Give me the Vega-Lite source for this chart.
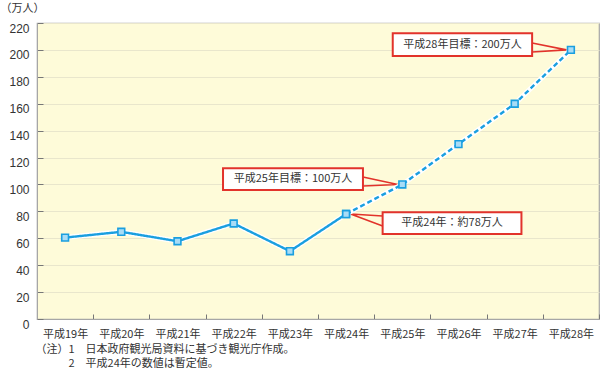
{
  "$schema": "https://vega.github.io/schema/vega-lite/v6.json",
  "width": 562,
  "height": 296,
  "autosize": {"type": "none"},
  "padding": {"left": 37, "top": 23, "right": 1, "bottom": 49},
  "background": "white",
  "config": {
    "font": "Noto Sans CJK JP",
    "view": {"fill": "#fefbd9", "stroke": "#a6a6a6", "strokeWidth": 1.2},
    "axisY": {
      "grid": true, "gridColor": "#e9e6cc", "gridWidth": 1,
      "tickSize": -6, "tickColor": "#777777", "domainColor": "#a6a6a6",
      "labelFontSize": 12, "labelColor": "#333333", "labelPadding": 14, "labelOffset": 5,
      "labelOverlap": false, "labelBound": false, "labelFlush": false,
      "labelFont": "Liberation Sans",
      "titleAngle": 0, "titleAlign": "left", "titleBaseline": "middle",
      "titleX": -37, "titleY": -15, "titleFontSize": 11, "titleFontWeight": "normal", "titleColor": "#333333"
    }
  },
  "datasets": {
    "series": [
      {"year": "平成19年", "v": 60.5, "seg": "実績"},
      {"year": "平成20年", "v": 64.8, "seg": "実績"},
      {"year": "平成21年", "v": 57.8, "seg": "実績"},
      {"year": "平成22年", "v": 71, "seg": "実績"},
      {"year": "平成23年", "v": 50.4, "seg": "実績"},
      {"year": "平成24年", "v": 78, "seg": "実績"},
      {"year": "平成24年", "v": 78, "seg": "目標"},
      {"year": "平成25年", "v": 100, "seg": "目標"},
      {"year": "平成26年", "v": 130, "seg": "目標"},
      {"year": "平成27年", "v": 160, "seg": "目標"},
      {"year": "平成28年", "v": 200, "seg": "目標"}
    ],
    "boxes": [
      {"label": "平成28年目標：200万人", "x1": 6.33, "x2": 8.81, "v": 212.4, "v2": 195.5, "xm": 7.57, "vm": 203.9},
      {"label": "平成25年目標：100万人", "x1": 3.31, "x2": 5.8, "v": 112, "v2": 95.9, "xm": 4.555, "vm": 104},
      {"label": "平成24年：約78万人", "x1": 6.15, "x2": 8.62, "v": 79.3, "v2": 63.2, "xm": 7.385, "vm": 71.3}
    ],
    "wedges": [
      {"id": "a", "o": 1, "x": 8.81, "v": 205.1},
      {"id": "a", "o": 2, "x": 9.42, "v": 200},
      {"id": "a", "o": 3, "x": 8.81, "v": 198.4},
      {"id": "b", "o": 1, "x": 5.8, "v": 105.5},
      {"id": "b", "o": 2, "x": 6.42, "v": 100},
      {"id": "b", "o": 3, "x": 5.8, "v": 98.8},
      {"id": "c", "o": 1, "x": 6.15, "v": 76.6},
      {"id": "c", "o": 2, "x": 5.58, "v": 78},
      {"id": "c", "o": 3, "x": 6.15, "v": 69.1}
    ]
  },
  "layer": [
    {
      "layer": [
        {
          "data": {"name": "wedges"},
          "mark": {"type": "line", "color": "#e2332b", "strokeWidth": 1.6},
          "encoding": {
            "x": {"field": "x", "type": "quantitative", "scale": {"domain": [0, 10], "nice": false, "zero": false}, "axis": null},
            "y": {
              "field": "v", "type": "quantitative",
              "scale": {"domain": [0, 220], "nice": false},
              "axis": {"values": [0, 20, 40, 60, 80, 100, 120, 140, 160, 180, 200, 220], "tickCount": 12, "title": "（万人）"}
            },
            "detail": {"field": "id"},
            "order": {"field": "o"}
          }
        },
        {
          "data": {"name": "boxes"},
          "mark": {"type": "rect", "fill": "white", "stroke": "#e2332b", "strokeWidth": 2},
          "encoding": {
            "x": {"field": "x1", "type": "quantitative"},
            "x2": {"field": "x2"},
            "y": {"field": "v", "type": "quantitative", "axis": {"values": [0, 20, 40, 60, 80, 100, 120, 140, 160, 180, 200, 220], "tickCount": 12, "title": "（万人）"}},
            "y2": {"field": "v2"}
          }
        },
        {
          "data": {"name": "boxes"},
          "mark": {"type": "text", "fontSize": 11, "color": "#333333", "align": "center", "baseline": "middle"},
          "encoding": {
            "x": {"field": "xm", "type": "quantitative"},
            "y": {"field": "vm", "type": "quantitative", "axis": {"values": [0, 20, 40, 60, 80, 100, 120, 140, 160, 180, 200, 220], "tickCount": 12, "title": "（万人）"}},
            "text": {"field": "label"}
          }
        }
      ]
    },
    {
      "data": {"name": "series"},
      "encoding": {
        "x": {
          "field": "year", "type": "ordinal", "bandPosition": 0.5,
          "scale": {"type": "band", "paddingInner": 0, "paddingOuter": 0},
          "axis": {
            "orient": "bottom",
            "tickBand": "extent", "tickSize": -5, "tickColor": "#777777", "domainColor": "#a6a6a6",
            "labelFontSize": 11, "labelColor": "#333333", "labelPadding": 14, "labelAngle": 0,
            "grid": false,
            "title": ["（注）1　日本政府観光局資料に基づき観光庁作成。", "\u200b　　　2　平成24年の数値は暫定値。"],
            "titleFontSize": 11, "titleFontWeight": "normal", "titleColor": "#333333",
            "titleAlign": "left", "titleAnchor": "start", "titleX": -2, "titleY": 24,
            "titleBaseline": "top", "titleLineHeight": 14
          }
        },
        "y": {
          "field": "v", "type": "quantitative",
          "axis": {"values": [0, 20, 40, 60, 80, 100, 120, 140, 160, 180, 200, 220], "tickCount": 12, "title": "（万人）"}
        }
      },
      "layer": [
        {
          "mark": {"type": "line", "color": "white", "strokeWidth": 5},
          "encoding": {"detail": {"field": "seg"}}
        },
        {
          "mark": {"type": "line", "color": "#1a9fe0", "strokeWidth": 2.4},
          "encoding": {
            "strokeDash": {"field": "seg", "type": "nominal", "scale": {"domain": ["実績", "目標"], "range": [[1, 0], [5, 3]]}, "legend": null}
          }
        },
        {
          "mark": {"type": "point", "shape": "square", "size": 46, "filled": true, "fill": "#a8dcf6", "stroke": "#1a9fe0", "strokeWidth": 1.6, "opacity": 1}
        }
      ]
    }
  ],
  "resolve": {"scale": {"x": "independent"}}
}
